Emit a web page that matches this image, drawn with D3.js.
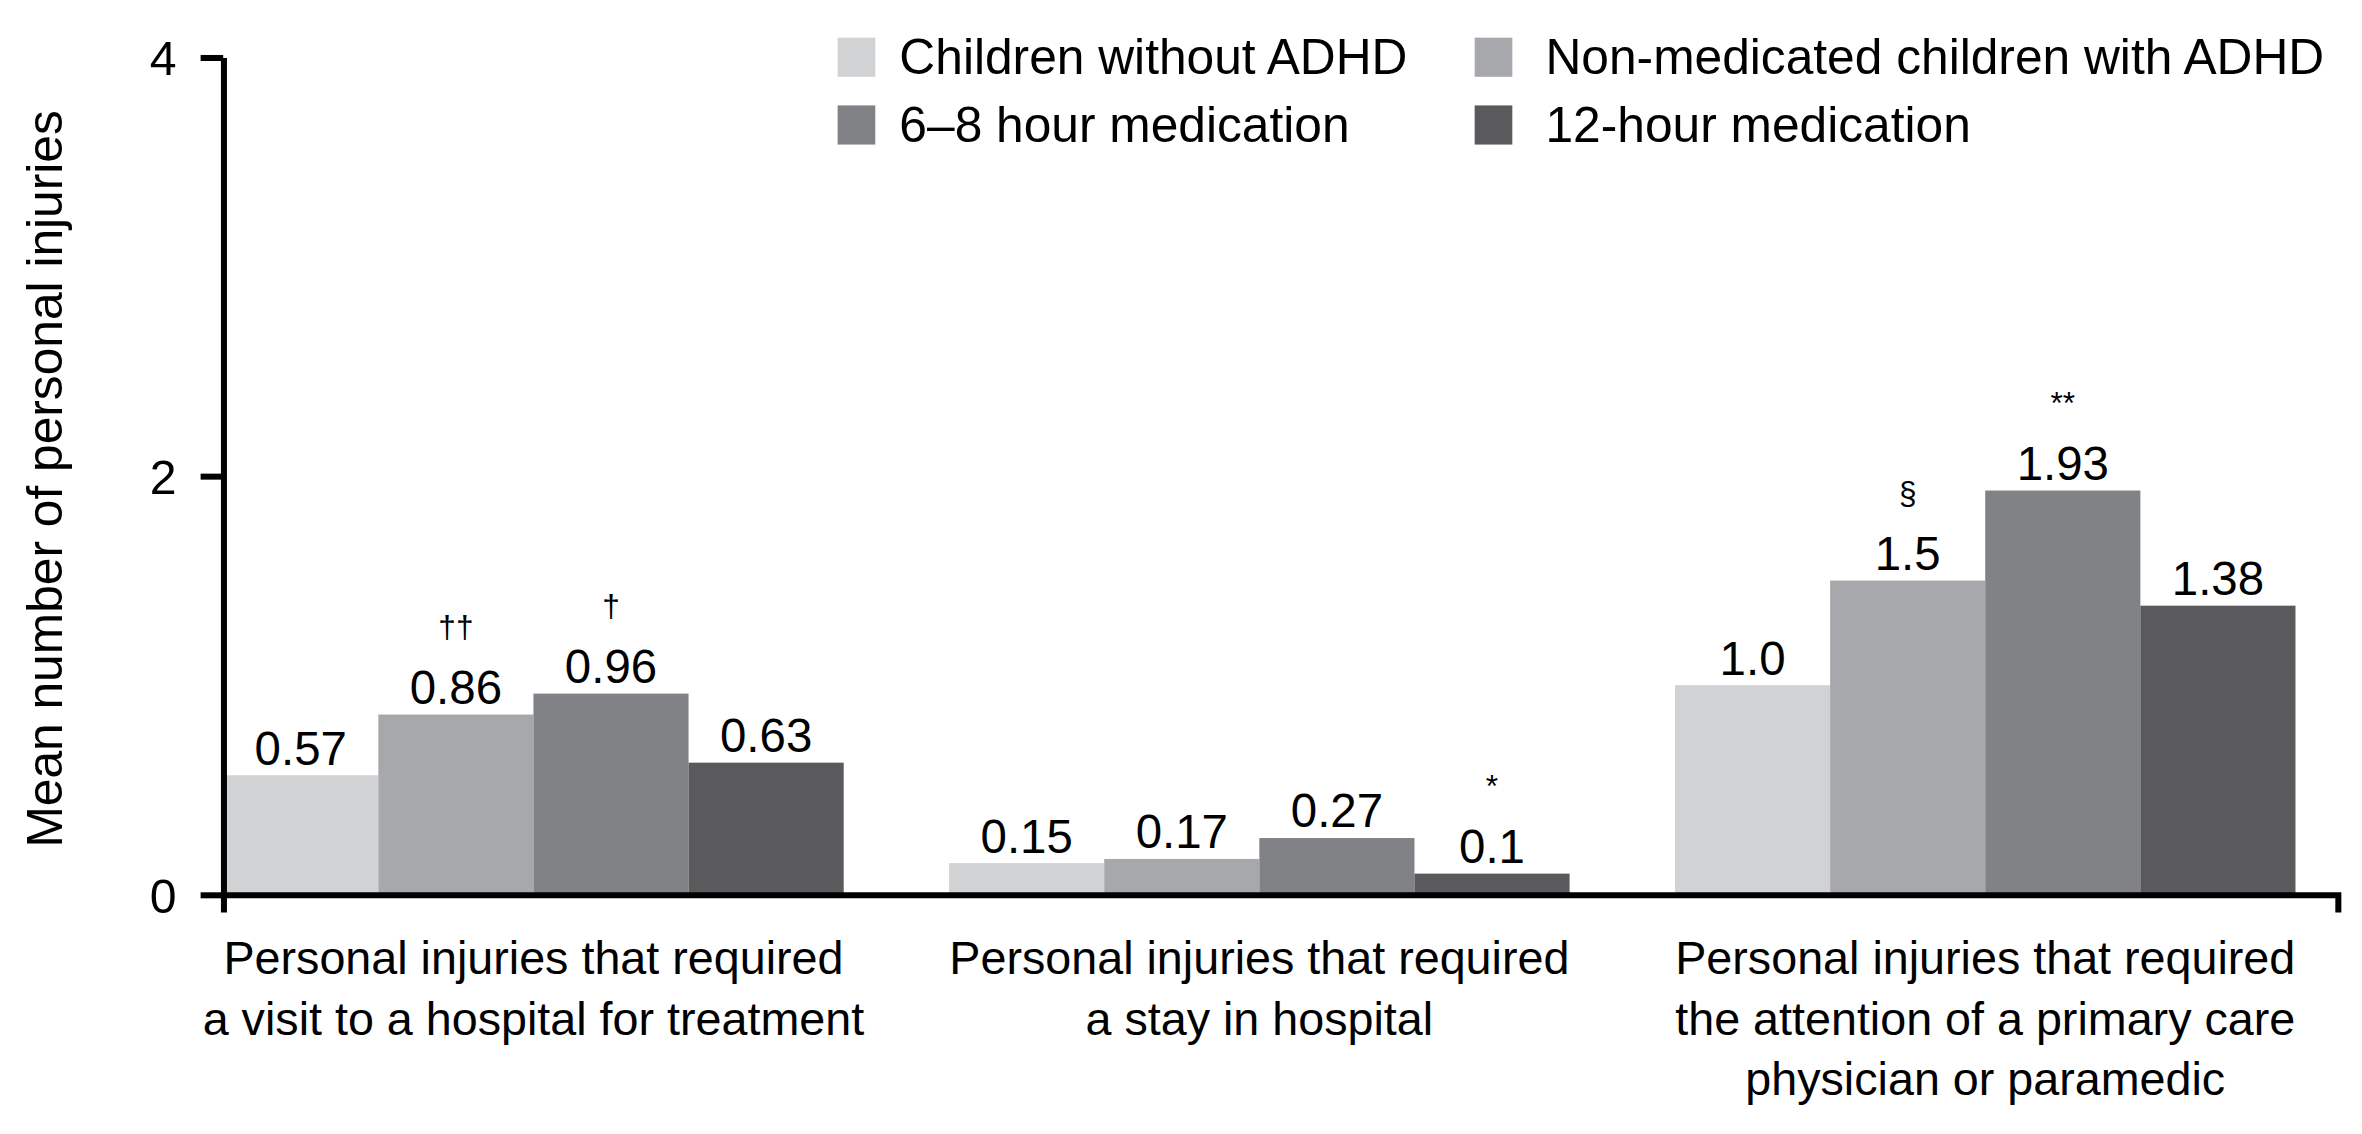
<!DOCTYPE html>
<html>
<head>
<meta charset="utf-8">
<script src="https://cdn.jsdelivr.net/npm/d3@7"></script>
<style>
  body { margin: 0; background: #fff; }
  text { font-family: "Liberation Sans", Arial, Helvetica, sans-serif; fill: #000; }
</style>
</head>
<body>
<div class="container"></div>
<script>
// categories on the x axis (line breaks as in the figure)
const categories = [
  "Personal injuries that required\na visit to a hospital for treatment",
  "Personal injuries that required\na stay in hospital",
  "Personal injuries that required\nthe attention of a primary care\nphysician or paramedic"
]

const seriesNames = [
  "Children without ADHD",
  "Non-medicated children with ADHD",
  "6–8 hour medication",
  "12-hour medication"
]
const seriesColors = ["#d1d2d4", "#a7a8ab", "#818285", "#5a5a5c"]

// values per series, one per category
const withoutAdhd = [0.57, 0.15, 1.0]
const nonMedicated = [0.86, 0.17, 1.5]
const med6to8 = [0.96, 0.27, 1.93]
const med12 = [0.63, 0.1, 1.38]

// printed labels (as shown in the figure)
const withoutAdhdLabels = ["0.57", "0.15", "1.0"]
const nonMedicatedLabels = ["0.86", "0.17", "1.5"]
const med6to8Labels = ["0.96", "0.27", "1.93"]
const med12Labels = ["0.63", "0.1", "1.38"]

// significance marks
const withoutAdhdMarks = ["", "", ""]
const nonMedicatedMarks = ["††", "", "§"]
const med6to8Marks = ["†", "", "**"]
const med12Marks = ["", "*", ""]

const yTicks = [0, 2, 4]
const yLabel = "Mean number of personal injuries"

const values = [withoutAdhd, nonMedicated, med6to8, med12]
const labels = [withoutAdhdLabels, nonMedicatedLabels, med6to8Labels, med12Labels]
const marks = [withoutAdhdMarks, nonMedicatedMarks, med6to8Marks, med12Marks]

const bars = []
categories.forEach((c, ci) => {
  seriesNames.forEach((s, si) => {
    bars.push({ cat: c, series: s, color: seriesColors[si], value: values[si][ci], label: labels[si][ci], mark: marks[si][ci] })
  })
})

const W = 1568, H = 753

const svg = d3.select(".container")
  .append("svg")
  .attr("width", 2362)
  .attr("height", 1134)
  .attr("viewBox", [0, 0, W, H])

const x = d3.scaleBand()
  .domain(categories)
  .range([148, 1552])
  .paddingInner(0.1452)
  .paddingOuter(0.029)
  .align(0)

const xs = d3.scaleBand()
  .domain(seriesNames)
  .range([0, x.bandwidth()])

const y = d3.scaleLinear()
  .domain([0, 4])
  .range([594, 38])

// bars
svg.append("g")
  .selectAll("rect")
  .data(bars)
  .join("rect")
  .attr("x", d => x(d.cat) + xs(d.series))
  .attr("y", d => y(d.value))
  .attr("width", xs.bandwidth())
  .attr("height", d => y(0) - y(d.value))
  .attr("fill", d => d.color)

// value labels
svg.append("g")
  .selectAll("text")
  .data(bars)
  .join("text")
  .attr("x", d => x(d.cat) + xs(d.series) + xs.bandwidth() / 2)
  .attr("y", d => y(d.value) - 7)
  .attr("text-anchor", "middle")
  .attr("font-size", 31.5)
  .text(d => d.label)

// significance marks
svg.append("g")
  .selectAll("text")
  .data(bars.filter(d => d.mark))
  .join("text")
  .attr("x", d => x(d.cat) + xs(d.series) + xs.bandwidth() / 2)
  .attr("y", d => y(d.value) - 7 - 44)
  .attr("text-anchor", "middle")
  .attr("font-size", 21)
  .text(d => d.mark)

// y axis
const yAxis = svg.append("g")
  .attr("transform", `translate(148,0)`)
  .call(d3.axisLeft(y).tickValues(yTicks).tickFormat(d3.format("d"))
    .tickSize(15).tickSizeOuter(0).tickPadding(16))
yAxis.attr("font-family", null).attr("font-size", null)
yAxis.select(".domain").attr("stroke", "#000").attr("stroke-width", 4)
yAxis.selectAll(".tick line").attr("stroke", "#000").attr("stroke-width", 4)
yAxis.selectAll(".tick text")
  .attr("font-size", 32)
  .attr("dy", "0.36em")

// x axis: baseline with end ticks
const xAxis = svg.append("g")
  .attr("transform", `translate(0,${y(0)})`)
  .call(d3.axisBottom(x).tickSize(0).tickSizeOuter(12).tickFormat(""))
xAxis.attr("font-family", null).attr("font-size", null)
xAxis.select(".domain").attr("stroke", "#000").attr("stroke-width", 4)

// category labels
xAxis.selectAll(".tick text").remove()
xAxis.selectAll(".tick")
  .append("text")
  .attr("text-anchor", "middle")
  .attr("font-size", 31)
  .attr("y", 53)
  .each(function (d) {
    d3.select(this).selectAll("tspan")
      .data(d.split("\n"))
      .join("tspan")
      .attr("x", 0)
      .attr("dy", (t, i) => i === 0 ? 0 : 40)
      .text(t => t)
  })

// y axis title
svg.append("text")
  .attr("transform", `translate(41,318) rotate(-90)`)
  .attr("text-anchor", "middle")
  .attr("font-size", 33)
  .text(yLabel)

// legend
const legendCols = [556, 979]
const legendRows = [25, 70]
const legend = svg.append("g")
  .selectAll("g")
  .data(seriesNames)
  .join("g")
  .attr("transform", (d, i) => `translate(${legendCols[i % 2]},${legendRows[Math.floor(i / 2)]})`)

legend.append("rect")
  .attr("width", 25)
  .attr("height", 26)
  .attr("fill", (d, i) => seriesColors[i])

legend.append("text")
  .attr("x", (d, i) => i % 2 === 0 ? 41 : 47)
  .attr("y", 24)
  .attr("font-size", 33)
  .text(d => d)
</script>
</body>
</html>
